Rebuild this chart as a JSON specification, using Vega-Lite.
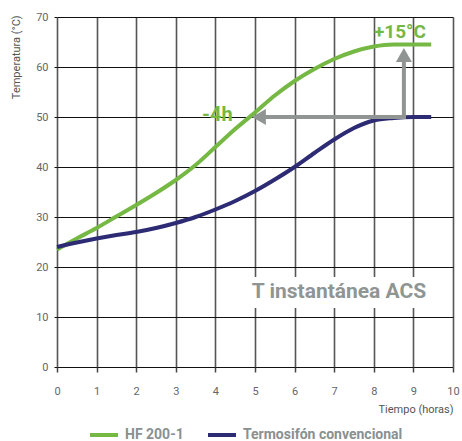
{
  "$schema": "https://vega.github.io/schema/vega-lite/v6.json",
  "width": 396,
  "height": 350,
  "autosize": "none",
  "padding": {"left": 57, "top": 17, "right": 9, "bottom": 74},
  "background": "white",
  "config": {
    "view": {"stroke": null},
    "font": "Roboto",
    "axis": {"labelFont": "Roboto", "titleFont": "Roboto", "zindex": 0}
  },
  "datasets": {
    "curves": [
      {"t": 0, "temp": 23.5, "serie": "HF 200-1"},
      {"t": 0.5, "temp": 25.7, "serie": "HF 200-1"},
      {"t": 1, "temp": 27.8, "serie": "HF 200-1"},
      {"t": 1.5, "temp": 30.1, "serie": "HF 200-1"},
      {"t": 2, "temp": 32.4, "serie": "HF 200-1"},
      {"t": 2.5, "temp": 34.8, "serie": "HF 200-1"},
      {"t": 3, "temp": 37.4, "serie": "HF 200-1"},
      {"t": 3.5, "temp": 40.4, "serie": "HF 200-1"},
      {"t": 4, "temp": 44.0, "serie": "HF 200-1"},
      {"t": 4.5, "temp": 47.6, "serie": "HF 200-1"},
      {"t": 5, "temp": 50.9, "serie": "HF 200-1"},
      {"t": 5.5, "temp": 54.3, "serie": "HF 200-1"},
      {"t": 6, "temp": 57.2, "serie": "HF 200-1"},
      {"t": 6.5, "temp": 59.6, "serie": "HF 200-1"},
      {"t": 7, "temp": 61.6, "serie": "HF 200-1"},
      {"t": 7.5, "temp": 63.1, "serie": "HF 200-1"},
      {"t": 8, "temp": 64.1, "serie": "HF 200-1"},
      {"t": 8.5, "temp": 64.5, "serie": "HF 200-1"},
      {"t": 9, "temp": 64.5, "serie": "HF 200-1"},
      {"t": 9.45, "temp": 64.5, "serie": "HF 200-1"},
      {"t": 0, "temp": 24.0, "serie": "Termosifón convencional"},
      {"t": 0.5, "temp": 24.9, "serie": "Termosifón convencional"},
      {"t": 1, "temp": 25.7, "serie": "Termosifón convencional"},
      {"t": 1.5, "temp": 26.4, "serie": "Termosifón convencional"},
      {"t": 2, "temp": 27.0, "serie": "Termosifón convencional"},
      {"t": 2.5, "temp": 27.8, "serie": "Termosifón convencional"},
      {"t": 3, "temp": 28.8, "serie": "Termosifón convencional"},
      {"t": 3.5, "temp": 30.0, "serie": "Termosifón convencional"},
      {"t": 4, "temp": 31.5, "serie": "Termosifón convencional"},
      {"t": 4.5, "temp": 33.2, "serie": "Termosifón convencional"},
      {"t": 5, "temp": 35.2, "serie": "Termosifón convencional"},
      {"t": 5.5, "temp": 37.5, "serie": "Termosifón convencional"},
      {"t": 6, "temp": 40.0, "serie": "Termosifón convencional"},
      {"t": 6.5, "temp": 42.8, "serie": "Termosifón convencional"},
      {"t": 7, "temp": 45.5, "serie": "Termosifón convencional"},
      {"t": 7.5, "temp": 47.8, "serie": "Termosifón convencional"},
      {"t": 8, "temp": 49.3, "serie": "Termosifón convencional"},
      {"t": 8.5, "temp": 49.8, "serie": "Termosifón convencional"},
      {"t": 9, "temp": 50.0, "serie": "Termosifón convencional"},
      {"t": 9.45, "temp": 50.0, "serie": "Termosifón convencional"}
    ],
    "shafts": [
      {"t": 5.1, "t2": 8.76, "temp": 50, "temp2": 50},
      {"t": 8.76, "t2": 8.76, "temp": 50, "temp2": 62.4}
    ],
    "heads": [
      {"t": 5.1, "temp": 50, "dir": "triangle-left"},
      {"t": 8.76, "temp": 62.4, "dir": "triangle-up"}
    ]
  },
  "encoding": {
    "x": {
      "field": "t", "type": "quantitative",
      "scale": {"domain": [0, 10], "nice": false},
      "axis": {
        "values": [0,1,2,3,4,5,6,7,8,9,10], "labelOverlap": false, "zindex": 0,
        "title": "Tiempo (horas)",
        "titleAnchor": "end", "titleAlign": "right", "titleX": 396, "titleY": 36,
        "titleFontWeight": "normal", "titleFontSize": 11, "titleColor": "#555555",
        "labelColor": "#666666", "labelFontSize": 11, "labelPadding": 13, "labelFlush": false,
        "domain": false, "ticks": true, "tickSize": 5, "tickColor": "#444444", "tickWidth": 1.5,
        "grid": true, "gridColor": "#555555", "gridWidth": 1.6
      }
    },
    "y": {
      "field": "temp", "type": "quantitative",
      "scale": {"domain": [0, 70], "nice": false},
      "axis": {
        "values": [0,10,20,30,40,50,60,70], "labelOverlap": false, "zindex": 0,
        "title": "Temperatura (°C)",
        "titleAnchor": "end", "titleAlign": "right", "titleAngle": -90, "titleX": -36, "titleY": -2,
        "titleFontWeight": "normal", "titleFontSize": 11, "titleColor": "#555555",
        "labelColor": "#666666", "labelFontSize": 11, "labelPadding": 6, "labelFlush": false,
        "domain": false, "ticks": true, "tickSize": 3, "tickColor": "#111111",
        "grid": true, "gridColor": "#111111", "gridWidth": 1
      }
    }
  },
  "layer": [
    {
      "data": {"values": [{"t": 4.75, "t2": 9.49, "temp": 11.8, "temp2": 18.0}]},
      "mark": {"type": "rect", "fill": "#ffffff", "fillOpacity": 1, "opacity": 1, "stroke": null},
      "encoding": {
        "x2": {"field": "t2"},
        "y2": {"field": "temp2"}
      }
    },
    {
      "data": {"name": "curves"},
      "mark": {"type": "line", "strokeWidth": 4, "interpolate": "monotone", "strokeCap": "butt"},
      "encoding": {
        "color": {
          "field": "serie", "type": "nominal",
          "scale": {"domain": ["HF 200-1", "Termosifón convencional"], "range": ["#75b844", "#2c2b73"]},
          "legend": {
            "title": null, "orient": "none", "direction": "horizontal",
            "legendX": 31, "legendY": 402,
            "symbolType": "stroke", "symbolStrokeWidth": 4, "symbolSize": 784,
            "labelFontWeight": "bold", "labelFontSize": 14, "labelColor": "#8a9090",
            "columnPadding": 16, "labelOffset": 5
          }
        }
      }
    },
    {
      "data": {"name": "shafts"},
      "mark": {"type": "rule", "color": "#909593", "strokeWidth": 4, "strokeCap": "square"},
      "encoding": {
        "x2": {"field": "t2"},
        "y2": {"field": "temp2"}
      }
    },
    {
      "data": {"name": "heads"},
      "mark": {"type": "point", "filled": true, "color": "#909593", "opacity": 1, "size": 256},
      "encoding": {
        "shape": {"field": "dir", "type": "nominal", "scale": {"domain": ["triangle-left", "triangle-up"], "range": ["triangle-left", "triangle-up"]}, "legend": null}
      }
    },
    {
      "data": {"values": [{"t": 4.05, "temp": 50.4, "label": "-4h"}]},
      "mark": {"type": "text", "fontWeight": "bold", "fontSize": 20, "color": "#75b844", "align": "center", "baseline": "middle"},
      "encoding": {"text": {"field": "label"}}
    },
    {
      "data": {"values": [{"t": 8.66, "temp": 67, "label": "+15°C"}]},
      "mark": {"type": "text", "fontWeight": "bold", "fontSize": 19, "color": "#75b844", "align": "center", "baseline": "middle"},
      "encoding": {"text": {"field": "label"}}
    },
    {
      "data": {"values": [{"t": 7.12, "temp": 15, "label": "T instantánea ACS"}]},
      "mark": {"type": "text", "fontWeight": "bold", "fontSize": 21, "color": "#8f9593", "align": "center", "baseline": "middle"},
      "encoding": {"text": {"field": "label"}}
    }
  ]
}
